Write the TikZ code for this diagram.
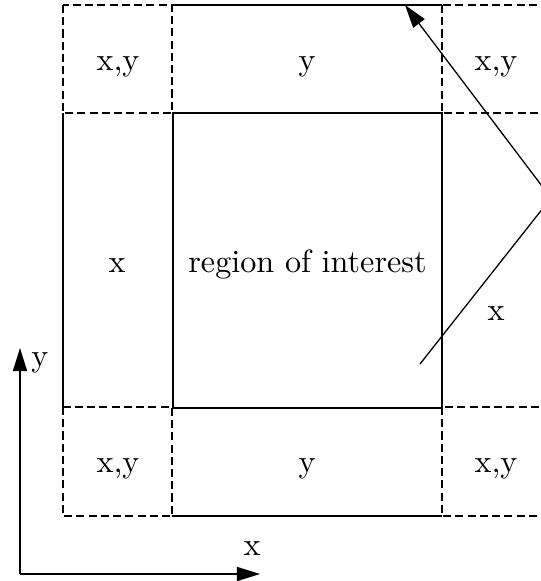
\documentclass[tikz,border=0pt]{standalone}
\usetikzlibrary{arrows.meta}
\tikzset{
  dsh/.style={dash pattern=on 2.5pt off 1.3pt},
  lbl/.style={inner sep=0pt, anchor=base},
  arr/.style={-{Triangle[length=7.2pt,width=4.4pt]}}
}
\begin{document}
\begin{tikzpicture}[x=0.3106pt,y=-0.3106pt]
\clip (0,0) rectangle (541,581);
% corner boxes (dashed)
\draw[dsh] (63,5) rectangle (172,113);
\draw[dsh] (442,5) rectangle (620,113);
\draw[dsh] (63,407) rectangle (172,516);
\draw[dsh] (442,407) rectangle (620,516);
% solid outer edges
\draw (172,5) -- (442,5);
\draw (63,113) -- (63,407);
\draw (172,516) -- (442,516);
% region of interest
\draw (173,113) rectangle (442,408);
% labels
\node[lbl] (tl) at (118,70) {x,y};
\node[lbl] (tm) at (307,70) {y};
\node[lbl] (tr) at (496,70) {x,y};
\node[lbl] (ml) at (117,272) {x};
\node[lbl] (roi) at (307.5,272) {region of interest};
\node[lbl] (mr) at (496,320) {x};
\node[lbl] (bl) at (118,472) {x,y};
\node[lbl] (bm) at (307,472) {y};
\node[lbl] (br) at (496,472) {x,y};
% pointer lines from off-canvas source
\coordinate (src) at (551,198);
\coordinate (toptip) at (405,5);
\coordinate (lowend) at (420,364);
\draw[arr] (src) -- (toptip);
\draw (src) -- (lowend);
% axes
\coordinate (O) at (20,574);
\coordinate (Yt) at (20,348);
\coordinate (Xt) at (260,574);
\draw[arr] (O) -- (Yt);
\draw[arr] (O) -- (Xt);
\node[lbl] (ylab) at (40,366) {y};
\node[lbl] (xlab) at (252,555) {x};
\end{tikzpicture}
\end{document}
